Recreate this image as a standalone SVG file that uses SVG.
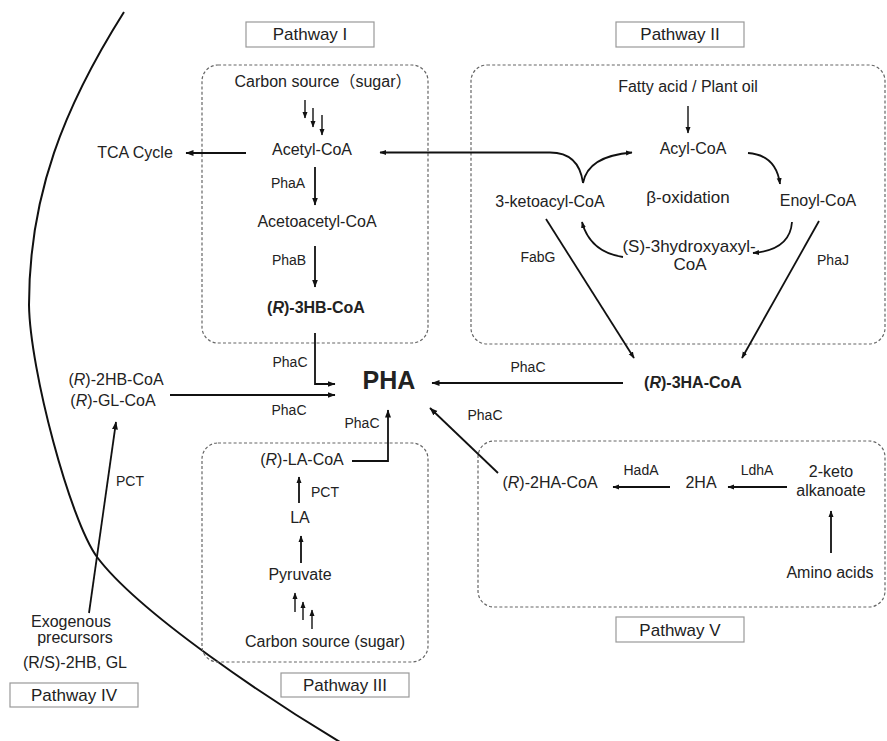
<svg xmlns="http://www.w3.org/2000/svg" width="887" height="741" viewBox="0 0 887 741">
<defs>
<marker id="ah" markerUnits="userSpaceOnUse" markerWidth="9" markerHeight="7" refX="7.5" refY="3.5" orient="auto-start-reverse">
<path d="M0,0.5 L8,3.5 L0,6.5 z" fill="#111"/>
</marker>
<marker id="ahs" markerUnits="userSpaceOnUse" markerWidth="7" markerHeight="6" refX="6" refY="3" orient="auto-start-reverse">
<path d="M0,0.5 L6.5,3 L0,5.5 z" fill="#111"/>
</marker>
</defs>
<style>
text{font-family:"Liberation Sans","Noto Sans CJK SC",Arial,sans-serif;fill:#222;text-anchor:middle}
.m{font-size:16px}
.s{font-size:14px}
.b{font-size:16px;font-weight:bold}
.big{font-size:17px}
.pl{font-size:17px}
.plbox{fill:#fff;stroke:#999;stroke-width:1.2}
.dash{fill:none;stroke:#666;stroke-width:1.2;stroke-dasharray:3,2.2}
.c{fill:none;stroke:#111;stroke-width:1.8}
.c2{fill:none;stroke:#111;stroke-width:1.4}
</style>
<rect width="887" height="741" fill="#fff"/>

<g id="cell-membrane">
<path d="M124,12 C64,107 29,195 29,305 C30,370 70,520 97,557 C139,613 271,701 345,745" fill="none" stroke="#111" stroke-width="2"/>
</g>

<g id="pathway-boxes">
<rect class="dash" x="202" y="65" width="226" height="278" rx="16"/>
<rect class="dash" x="471" y="65" width="414" height="279" rx="16"/>
<rect class="dash" x="202" y="443" width="226" height="219" rx="16"/>
<rect class="dash" x="478" y="441" width="407" height="166" rx="16"/>
</g>

<g id="labels">
<g id="label-pathway-1"><rect class="plbox" x="246" y="22" width="128" height="25"/><text class="pl" x="310" y="40">Pathway I</text></g>
<g id="label-pathway-2"><rect class="plbox" x="616" y="22" width="128" height="25"/><text class="pl" x="680" y="40">Pathway II</text></g>
<g id="label-pathway-3"><rect class="plbox" x="281" y="673" width="128" height="24"/><text class="pl" x="345" y="691">Pathway III</text></g>
<g id="label-pathway-4"><rect class="plbox" x="10" y="683" width="128" height="24"/><text class="pl" x="74" y="701">Pathway IV</text></g>
<g id="label-pathway-5"><rect class="plbox" x="616" y="617" width="128" height="25"/><text class="pl" x="680" y="636">Pathway V</text></g>
</g>

<g id="connectors">
<!-- Pathway I -->
<line class="c2" x1="305" y1="100" x2="305" y2="118" marker-end="url(#ahs)"/>
<line class="c2" x1="313" y1="108" x2="313" y2="127" marker-end="url(#ahs)"/>
<line class="c2" x1="322" y1="115" x2="322" y2="135" marker-end="url(#ahs)"/>
<line class="c" x1="246" y1="153" x2="186" y2="153" marker-end="url(#ah)"/>
<line class="c" x1="315" y1="167" x2="315" y2="205" marker-end="url(#ah)"/>
<line class="c" x1="315" y1="246" x2="315" y2="287" marker-end="url(#ah)"/>
<path class="c" d="M315,333 V384 H335" marker-end="url(#ah)"/>
<!-- Pathway IV -->
<line class="c" x1="170" y1="395" x2="335" y2="395" marker-end="url(#ah)"/>
<line class="c" x1="89" y1="613" x2="116" y2="422" marker-end="url(#ah)"/>
<!-- Pathway III -->
<path class="c" d="M352,461 H388 V410" marker-end="url(#ah)"/>
<line class="c" x1="299" y1="503" x2="299" y2="477" marker-end="url(#ahs)"/>
<line class="c" x1="301" y1="563" x2="301" y2="536" marker-end="url(#ahs)"/>
<line class="c2" x1="295" y1="612" x2="295" y2="593" marker-end="url(#ahs)"/>
<line class="c2" x1="303" y1="620" x2="303" y2="602" marker-end="url(#ahs)"/>
<line class="c2" x1="312" y1="629" x2="312" y2="610" marker-end="url(#ahs)"/>
<!-- Pathway II -->
<line class="c2" x1="688" y1="106" x2="688" y2="133" marker-end="url(#ahs)"/>
<path class="c" d="M380,152.5 L550,152.5 Q579,152.5 583,183 Q588,156 632,152.5" marker-start="url(#ahs)" marker-end="url(#ahs)"/>
<path class="c" d="M748,153 Q776,155 780,184" marker-end="url(#ahs)"/>
<path class="c" d="M792,222 Q790,250 753,253" marker-end="url(#ahs)"/>
<path class="c" d="M623,257 Q590,252 582,222" marker-end="url(#ahs)"/>
<line class="c" x1="546" y1="219" x2="634" y2="358" marker-end="url(#ahs)"/>
<line class="c" x1="819" y1="221" x2="742" y2="358" marker-end="url(#ahs)"/>
<line class="c" x1="623" y1="383" x2="432" y2="383" marker-end="url(#ah)"/>
<!-- Pathway V -->
<line class="c" x1="498" y1="473" x2="430" y2="408" marker-end="url(#ah)"/>
<line class="c" x1="670" y1="487" x2="613" y2="487" marker-end="url(#ahs)"/>
<line class="c" x1="787" y1="487" x2="728" y2="487" marker-end="url(#ahs)"/>
<line class="c" x1="831" y1="553" x2="831" y2="511" marker-end="url(#ahs)"/>
</g>

<g id="enzyme-labels">
<text class="s" x="288" y="188">PhaA</text>
<text class="s" x="289" y="265">PhaB</text>
<text class="s" x="290" y="367">PhaC</text>
<text class="s" x="289" y="415">PhaC</text>
<text class="s" x="362" y="428">PhaC</text>
<text class="s" x="528" y="372">PhaC</text>
<text class="s" x="485" y="420">PhaC</text>
<text class="s" x="130" y="486">PCT</text>
<text class="s" x="325" y="497">PCT</text>
<text class="s" x="538" y="262">FabG</text>
<text class="s" x="833" y="265">PhaJ</text>
<text class="s" x="641" y="475">HadA</text>
<text class="s" x="757" y="475">LdhA</text>
</g>

<g id="node-pha"><text x="389" y="389" style="font-size:25px;font-weight:bold">PHA</text></g>

<g id="node-carbon-1"><text class="m" x="323" y="87">Carbon source（sugar）</text></g>
<g id="node-acetyl-coa"><text class="m" x="312" y="155">Acetyl-CoA</text></g>
<g id="node-tca"><text class="m" x="135" y="158">TCA Cycle</text></g>
<g id="node-acetoacetyl-coa"><text class="m" x="317" y="227">Acetoacetyl-CoA</text></g>
<g id="node-3hb-coa"><text class="b" x="316" y="313">(<tspan font-style="italic">R</tspan>)-3HB-CoA</text></g>

<g id="node-fatty-acid"><text class="m" x="688" y="92">Fatty acid / Plant oil</text></g>
<g id="node-acyl-coa"><text class="m" x="693" y="154">Acyl-CoA</text></g>
<g id="node-beta-oxidation"><text class="big" x="688" y="203">β-oxidation</text></g>
<g id="node-ketoacyl-coa"><text class="m" x="550" y="207">3-ketoacyl-CoA</text></g>
<g id="node-enoyl-coa"><text class="m" x="818" y="206">Enoyl-CoA</text></g>
<g id="node-hydroxyacyl-coa"><text class="big" x="689" y="252">(S)-3hydroxyaxyl-</text><text class="big" x="690" y="270">CoA</text></g>
<g id="node-3ha-coa"><text class="b" x="693" y="388">(<tspan font-style="italic">R</tspan>)-3HA-CoA</text></g>

<g id="node-2hb-gl-coa"><text class="m" x="116" y="385">(<tspan font-style="italic">R</tspan>)-2HB-CoA</text><text class="m" x="113" y="406">(<tspan font-style="italic">R</tspan>)-GL-CoA</text></g>
<g id="node-exogenous"><text class="m" x="71" y="627">Exogenous</text><text class="m" x="75" y="643">precursors</text><text class="m" x="75" y="668">(R/S)-2HB, GL</text></g>

<g id="node-la-coa"><text class="m" x="302" y="465">(<tspan font-style="italic">R</tspan>)-LA-CoA</text></g>
<g id="node-la"><text class="m" x="300" y="523">LA</text></g>
<g id="node-pyruvate"><text class="m" x="300" y="580">Pyruvate</text></g>
<g id="node-carbon-3"><text class="m" x="325" y="647">Carbon source (sugar)</text></g>

<g id="node-2ha-coa"><text class="m" x="550" y="488">(<tspan font-style="italic">R</tspan>)-2HA-CoA</text></g>
<g id="node-2ha"><text class="m" x="701" y="488">2HA</text></g>
<g id="node-2keto"><text class="m" x="831" y="477">2-keto</text><text class="m" x="831" y="496">alkanoate</text></g>
<g id="node-amino-acids"><text class="m" x="830" y="578">Amino acids</text></g>
</svg>
